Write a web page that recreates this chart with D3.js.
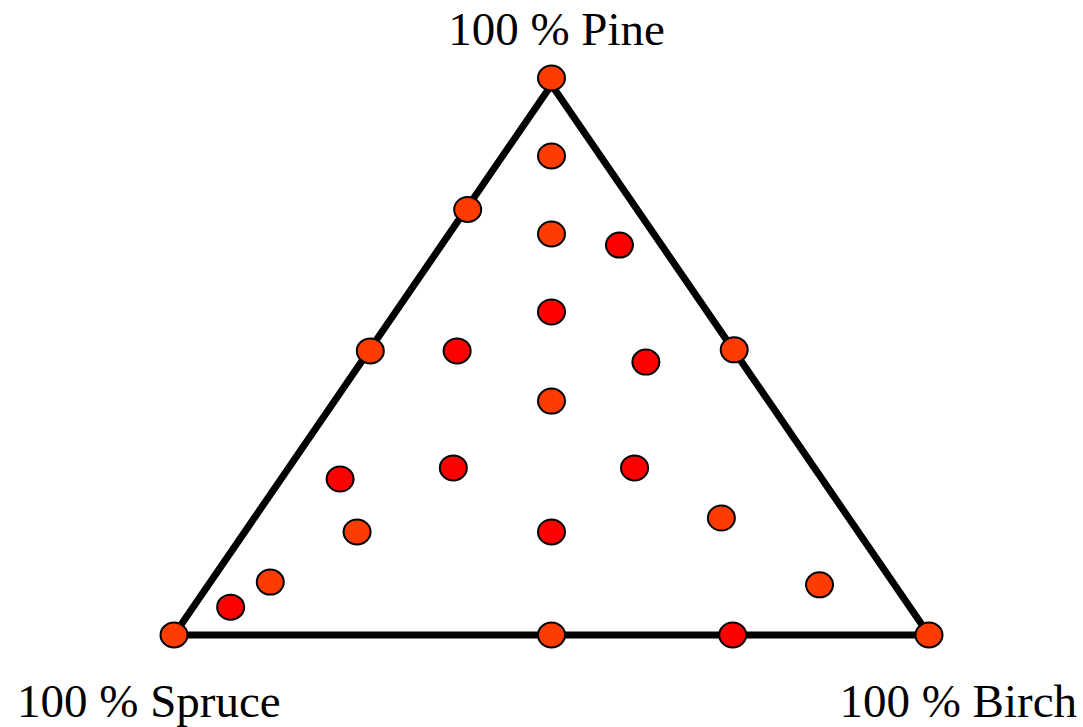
<!DOCTYPE html>
<html lang="en">
  <head>
    <meta charset="UTF-8" />
    <title>Pine / Spruce / Birch mixtures</title>
    <style>
      body {
        margin: 0;
        background: #fff;
      }
      .label {
        font-family: "Liberation Serif", "Times New Roman", serif;
        font-size: 47px;
        fill: #000;
      }
    </style>
  </head>
  <body>
    <script src="https://d3js.org/d3.v7.min.js"></script>
    <script>
      // species share of each plot, percent
      const pine = [100, 86, 76.4, 72, 70, 51, 51, 58, 51.2, 49, 42, 28, 30, 30, 18.5, 18.5, 21, 9.5, 5, 9, 0, 0, 0, 0];
      const spruce = [0, 7, 22.9, 14, 6, 48.5, 37, 21, 0.2, 13, 29, 64, 48, 24, 66.5, 40.75, 17, 82.5, 90, 10, 100, 50, 26, 0];
      const birch = [0, 7, 0.7, 14, 24, 0.5, 12, 21, 48.6, 38, 29, 8, 22, 46, 15, 40.75, 62, 8, 5, 81, 0, 50, 74, 100];
      // 0 = orange marker, 1 = red marker
      const group = [0, 0, 0, 0, 1, 0, 1, 1, 0, 1, 0, 1, 1, 1, 0, 1, 0, 0, 1, 0, 0, 0, 1, 0];

      const vertexLabels = ["100 % Spruce", "100 % Birch", "100 % Pine"];
      const colors = ["#ff3c00", "#ff0000"];

      const width = 1083;
      const height = 727;

      const svg = d3
        .select("body")
        .append("svg")
        .attr("width", width)
        .attr("height", height);

      // ternary -> cartesian: u along the base (spruce..birch), v up to pine
      const xScale = d3.scaleLinear().domain([0, 1]).range([174, 929]);
      const yScale = d3.scaleLinear().domain([0, 1]).range([635, 78]);

      const toXY = (p, s, b) => {
        const t = p + s + b;
        return [xScale((b + p / 2) / t), yScale(p / t)];
      };

      const corners = [toXY(0, 1, 0), toXY(0, 0, 1), toXY(1, 0, 0)];
      // the drawn frame apex sits a little below the 100 % pine marker
      const frame = [corners[0], corners[1], [corners[2][0], yScale(0.988)]];

      svg
        .append("path")
        .attr("d", d3.line()(frame) + "Z")
        .attr("fill", "none")
        .attr("stroke", "#000")
        .attr("stroke-width", 7)
        .attr("stroke-linejoin", "miter");

      const points = pine.map((p, i) => ({
        xy: toXY(p, spruce[i], birch[i]),
        group: group[i],
      }));

      svg
        .append("g")
        .selectAll("ellipse")
        .data(points)
        .join("ellipse")
        .attr("cx", (d) => d.xy[0])
        .attr("cy", (d) => d.xy[1])
        .attr("rx", 13.5)
        .attr("ry", 12.5)
        .attr("fill", (d) => colors[d.group])
        .attr("stroke", "#000")
        .attr("stroke-width", 2);

      // corner labels
      svg
        .append("text")
        .attr("class", "label")
        .attr("x", 17)
        .attr("y", 717)
        .attr("text-anchor", "start")
        .text(vertexLabels[0]);

      svg
        .append("text")
        .attr("class", "label")
        .attr("x", 1077)
        .attr("y", 717)
        .attr("text-anchor", "end")
        .text(vertexLabels[1]);

      svg
        .append("text")
        .attr("class", "label")
        .attr("x", corners[2][0] + 5)
        .attr("y", 45)
        .attr("text-anchor", "middle")
        .text(vertexLabels[2]);
    </script>
  </body>
</html>
